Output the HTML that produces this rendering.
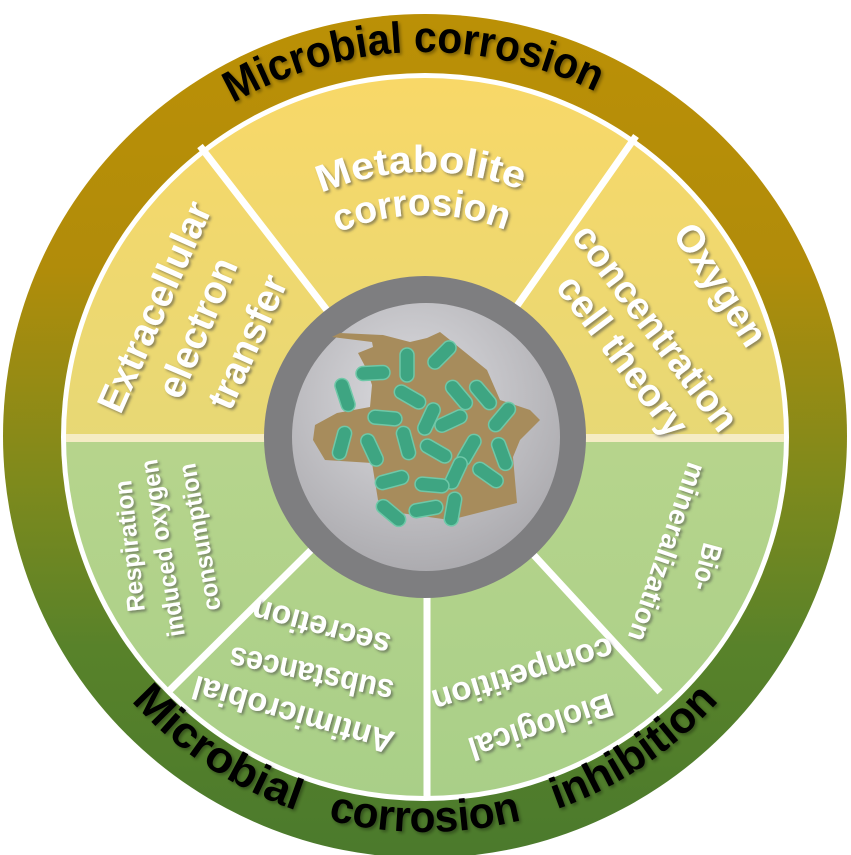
<!DOCTYPE html>
<html><head><meta charset="utf-8"><style>
html,body{margin:0;padding:0;background:#fff;width:851px;height:855px;overflow:hidden}
svg text{font-family:"Liberation Sans",sans-serif;font-weight:bold}
</style></head><body>
<svg width="851" height="855" viewBox="0 0 851 855" xmlns="http://www.w3.org/2000/svg">
<defs>
<linearGradient id="ring" x1="0" y1="0" x2="0" y2="1">
<stop offset="0" stop-color="#bb9006"/><stop offset="0.3" stop-color="#b18c0a"/><stop offset="0.55" stop-color="#7f8a1c"/><stop offset="0.75" stop-color="#58822a"/><stop offset="1" stop-color="#4b7a2c"/>
</linearGradient>
<linearGradient id="top" x1="0" y1="0" x2="0" y2="1">
<stop offset="0" stop-color="#f8d868"/><stop offset="1" stop-color="#d6d882"/>
</linearGradient>
<linearGradient id="bot" x1="0" y1="0" x2="0" y2="1">
<stop offset="0" stop-color="#c4da90"/><stop offset="1" stop-color="#a9cf88"/>
</linearGradient>
<radialGradient id="disc" cx="0.45" cy="0.35" r="0.7">
<stop offset="0" stop-color="#dcdce0"/><stop offset="1" stop-color="#a9a8ac"/>
</radialGradient>
<filter id="sh" x="-20%" y="-20%" width="140%" height="140%"><feDropShadow dx="2" dy="2" stdDeviation="1.2" flood-color="#444" flood-opacity="0.55"/></filter>
<filter id="shk" x="-20%" y="-20%" width="140%" height="140%"><feDropShadow dx="2" dy="2" stdDeviation="1.5" flood-color="#000" flood-opacity="0.35"/></filter>
<path id="arcTop" d="M 40 437 A 385 385 0 0 1 810 437"/>
<path id="arcBot" d="M 30 437 A 395 395 0 0 0 820 437"/>
<path id="arcM1" d="M 160 437 A 265 265 0 0 1 690 437"/>
<path id="arcM2" d="M 203 437 A 222 222 0 0 1 647 437"/>
<clipPath id="topc"><rect x="0" y="0" width="851" height="437"/></clipPath>
<clipPath id="botc"><rect x="0" y="437" width="851" height="420"/></clipPath>
</defs>
<circle cx="425" cy="436" r="422" fill="url(#ring)"/>
<circle cx="425" cy="437" r="364" fill="#fff"/>
<circle cx="425" cy="437" r="359" fill="url(#top)" clip-path="url(#topc)"/>
<circle cx="425" cy="437" r="359" fill="url(#bot)" clip-path="url(#botc)"/>
<g stroke="#fff" stroke-width="7">
<line x1="425" y1="437" x2="200" y2="146"/>
<line x1="425" y1="437" x2="636" y2="136"/>
<line x1="425" y1="437" x2="170" y2="690"/>
<line x1="427" y1="437" x2="427" y2="797"/>
<line x1="425" y1="437" x2="660" y2="692"/>
</g>
<line x1="66" y1="438" x2="784" y2="438" stroke="#f5ecc4" stroke-width="8"/>
<circle cx="425" cy="437" r="161" fill="#7e7e80"/>
<circle cx="426" cy="437" r="134" fill="url(#disc)"/>
<polygon fill="#a78c5c" points="332,337 372,342 373,347 358,353 367,370 372,385 370,407 337,413 315,425 313,440 325,460 372,463 378,500 400,513 450,520 517,503 513,457 520,440 540,420 530,410 500,400 487,370 450,340 440,332 427,338 410,342 383,335 340,333"/>
<g fill="#3ea582" stroke="#6fc8a8" stroke-width="1.5">
<rect x="-17" y="-7" width="34" height="14" rx="7" transform="translate(442,355) rotate(-45)"/>
<rect x="-17" y="-7" width="34" height="14" rx="7" transform="translate(407,365) rotate(90)"/>
<rect x="-17" y="-7" width="34" height="14" rx="7" transform="translate(373,373) rotate(-3)"/>
<rect x="-17" y="-7" width="34" height="14" rx="7" transform="translate(345,395) rotate(72)"/>
<rect x="-17" y="-7" width="34" height="14" rx="7" transform="translate(410,397) rotate(30)"/>
<rect x="-17" y="-7" width="34" height="14" rx="7" transform="translate(459,395) rotate(50)"/>
<rect x="-17" y="-7" width="34" height="14" rx="7" transform="translate(483,395) rotate(50)"/>
<rect x="-17" y="-7" width="34" height="14" rx="7" transform="translate(385,418) rotate(5)"/>
<rect x="-17" y="-7" width="34" height="14" rx="7" transform="translate(429,419) rotate(-65)"/>
<rect x="-17" y="-7" width="34" height="14" rx="7" transform="translate(451,421) rotate(-25)"/>
<rect x="-17" y="-7" width="34" height="14" rx="7" transform="translate(502,417) rotate(-50)"/>
<rect x="-17" y="-7" width="34" height="14" rx="7" transform="translate(342,443) rotate(-75)"/>
<rect x="-17" y="-7" width="34" height="14" rx="7" transform="translate(372,450) rotate(65)"/>
<rect x="-17" y="-7" width="34" height="14" rx="7" transform="translate(406,443) rotate(75)"/>
<rect x="-17" y="-7" width="34" height="14" rx="7" transform="translate(436,451) rotate(30)"/>
<rect x="-17" y="-7" width="34" height="14" rx="7" transform="translate(469,450) rotate(-60)"/>
<rect x="-17" y="-7" width="34" height="14" rx="7" transform="translate(502,454) rotate(70)"/>
<rect x="-17" y="-7" width="34" height="14" rx="7" transform="translate(456,473) rotate(-65)"/>
<rect x="-17" y="-7" width="34" height="14" rx="7" transform="translate(488,475) rotate(35)"/>
<rect x="-17" y="-7" width="34" height="14" rx="7" transform="translate(392,480) rotate(-15)"/>
<rect x="-17" y="-7" width="34" height="14" rx="7" transform="translate(432,485) rotate(5)"/>
<rect x="-17" y="-7" width="34" height="14" rx="7" transform="translate(391,513) rotate(40)"/>
<rect x="-17" y="-7" width="34" height="14" rx="7" transform="translate(426,509) rotate(-10)"/>
<rect x="-17" y="-7" width="34" height="14" rx="7" transform="translate(453,509) rotate(-80)"/>
</g>
<!-- ring texts -->
<g fill="#000" filter="url(#shk)" font-size="44">
<text><textPath href="#arcTop" startOffset="49%" text-anchor="middle" textLength="378" lengthAdjust="spacingAndGlyphs">Microbial corrosion</textPath></text>
<text><textPath href="#arcBot" startOffset="389" text-anchor="middle" textLength="200" lengthAdjust="spacingAndGlyphs">Microbial</textPath></text>
<text><textPath href="#arcBot" startOffset="620" text-anchor="middle" textLength="196" lengthAdjust="spacingAndGlyphs">corrosion</textPath></text>
<text><textPath href="#arcBot" startOffset="853" text-anchor="middle" textLength="197" lengthAdjust="spacingAndGlyphs">inhibition</textPath></text>
</g>
<!-- sector texts -->
<g fill="#fff" filter="url(#sh)">
<text font-size="38"><textPath href="#arcM1" startOffset="49.5%" text-anchor="middle" textLength="205" lengthAdjust="spacingAndGlyphs">Metabolite</textPath></text>
<text font-size="38"><textPath href="#arcM2" startOffset="49.5%" text-anchor="middle" textLength="172" lengthAdjust="spacingAndGlyphs">corrosion</textPath></text>
</g>
<g fill="#fff" filter="url(#sh)" dominant-baseline="central" text-anchor="middle">
<text font-size="39" transform="translate(155,307) rotate(-66)" textLength="226" lengthAdjust="spacingAndGlyphs">Extracellular</text>
<text font-size="39" transform="translate(198,328) rotate(-67)" textLength="148" lengthAdjust="spacingAndGlyphs">electron</text>
<text font-size="39" transform="translate(248,342) rotate(-66)" textLength="142" lengthAdjust="spacingAndGlyphs">transfer</text>
<text font-size="39" transform="translate(720,285) rotate(57)" textLength="138" lengthAdjust="spacingAndGlyphs">Oxygen</text>
<text font-size="39" transform="translate(655,328) rotate(53)" textLength="248" lengthAdjust="spacingAndGlyphs">concentration</text>
<text font-size="39" transform="translate(622,356) rotate(53)" textLength="191" lengthAdjust="spacingAndGlyphs">cell theory</text>
<text font-size="25" transform="translate(130,546) rotate(-96)" textLength="132" lengthAdjust="spacingAndGlyphs">Respiration</text>
<text font-size="25" transform="translate(163,548) rotate(-99)" textLength="179" lengthAdjust="spacingAndGlyphs">induced oxygen</text>
<text font-size="25" transform="translate(200,537) rotate(-100)" textLength="149" lengthAdjust="spacingAndGlyphs">consumption</text>
<text font-size="33" transform="translate(293,715) rotate(196)" textLength="208" lengthAdjust="spacingAndGlyphs">Antimicrobial</text>
<text font-size="33" transform="translate(311,675) rotate(192)" textLength="167" lengthAdjust="spacingAndGlyphs">substances</text>
<text font-size="33" transform="translate(321,628) rotate(195)" textLength="142" lengthAdjust="spacingAndGlyphs">secretion</text>
<text font-size="33" transform="translate(541,727) rotate(162)" textLength="150" lengthAdjust="spacingAndGlyphs">Biological</text>
<text font-size="33" transform="translate(523,675) rotate(163)" textLength="188" lengthAdjust="spacingAndGlyphs">competition</text>
<text font-size="28" transform="translate(707,567) rotate(105)" textLength="48" lengthAdjust="spacingAndGlyphs">Bio-</text>
<text font-size="28" transform="translate(667,552) rotate(109)" textLength="187" lengthAdjust="spacingAndGlyphs">mineralization</text>
</g>
</svg>
</body></html>
